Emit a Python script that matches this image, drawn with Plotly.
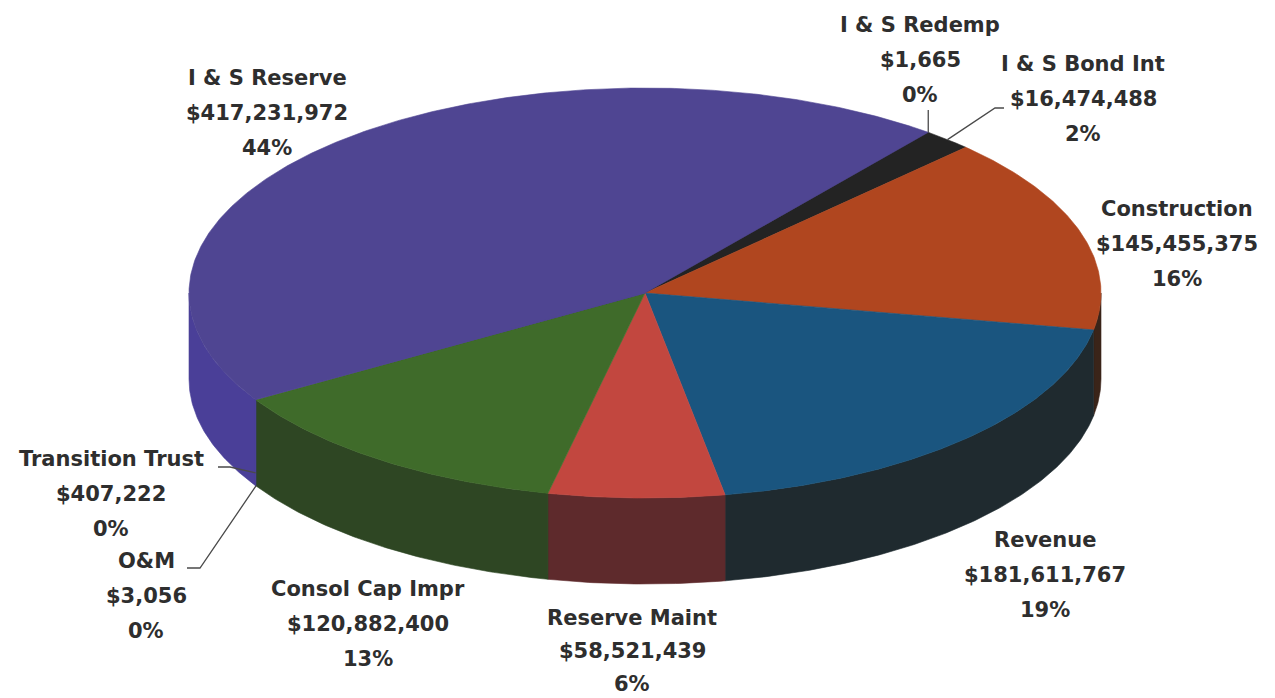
import numpy as np
import plotly.graph_objects as go

# Fund balances, listed clockwise from the top of the pie
categories = [
    "I & S Redemp", "I & S Bond Int", "Construction", "Revenue",
    "Reserve Maint", "Consol Cap Impr", "O&M", "Transition Trust", "I & S Reserve",
]
amounts = [1665, 16474488, 145455375, 181611767, 58521439, 120882400, 3056, 407222, 417231972]
shares = ["0%", "2%", "16%", "19%", "6%", "13%", "0%", "0%", "44%"]

# Styling: top face colour and darker wall colour per slice
top_colors = ["#2a2a2a", "#232323", "#b0461f", "#1a557f", "#c2473f",
              "#3f6b2a", "#3f6b2a", "#4f4592", "#4f4592"]
side_colors = ["#1c1c1c", "#1c1c1c", "#3a2419", "#1f2a2f", "#5e2a2c",
               "#2e4623", "#2e4623", "#4a3f98", "#4a3f98"]

# Pie geometry in page pixels (ellipse seen in perspective)
W, H = 1275, 698
CX, CY, RX, RY, DEPTH = 645, 293, 456, 205, 86
START = 38.4  # degrees clockwise from 12 o'clock

# Label placement: centre x and first-line y, plus optional leader line
label_pos = {
    "I & S Redemp": (920, 25),
    "I & S Bond Int": (1083, 64),
    "Construction": (1177, 209),
    "Revenue": (1045, 540),
    "Reserve Maint": (632, 618),
    "Consol Cap Impr": (368, 589),
    "O&M": (146, 561),
    "Transition Trust": (111, 459),
    "I & S Reserve": (267, 78),
}
line_gaps = {"Reserve Maint": 33}
LINE_GAP = 35
# leader: (elbow points from label side, depth fraction at the pie end)
leaders = {
    "I & S Redemp": ([(None, 110)], 0.0),
    "I & S Bond Int": ([(1004, 108), (995, 108)], 0.0),
    "Transition Trust": ([(218, 467), (230, 467)], 0.85),
    "O&M": ([(187, 568), (200, 568)], 1.0),
}


def ell(theta_deg, drop=0.0):
    t = np.radians(theta_deg)
    return CX + RX * np.sin(t), CY - RY * np.cos(t) + drop


total = float(sum(amounts))
fracs = np.array(amounts, dtype=float) / total
edges = START + 360.0 * np.concatenate([[0.0], np.cumsum(fracs)])

fig = go.Figure()

# Outer walls: only the front half (90..270 degrees) is visible
for i in range(len(categories)):
    a0, a1 = edges[i], edges[i + 1]
    for k in (-360, 0, 360):
        lo, hi = max(a0, 90 + k), min(a1, 270 + k)
        if hi <= lo:
            continue
        th = np.linspace(lo, hi, max(3, int((hi - lo) * 2)))
        xt, yt = ell(th)
        xb, yb = ell(th[::-1], DEPTH)
        fig.add_trace(go.Scatter(
            x=np.concatenate([xt, xb, xt[:1]]), y=np.concatenate([yt, yb, yt[:1]]),
            mode="lines", fill="toself", fillcolor=side_colors[i],
            line=dict(color=side_colors[i], width=0.6),
            hoverinfo="skip", showlegend=False))

# Top faces
for i in range(len(categories)):
    a0, a1 = edges[i], edges[i + 1]
    th = np.linspace(a0, a1, max(3, int((a1 - a0) * 2)))
    xa, ya = ell(th)
    fig.add_trace(go.Scatter(
        x=np.concatenate([[CX], xa, [CX]]), y=np.concatenate([[CY], ya, [CY]]),
        mode="lines", fill="toself", fillcolor=top_colors[i],
        line=dict(color=top_colors[i], width=0.6),
        name=categories[i], hoverinfo="name", showlegend=False))

# Leader lines for the thin slices
for name, (pts, depth_frac) in leaders.items():
    i = categories.index(name)
    mid = 0.5 * (edges[i] + edges[i + 1])
    px, py = ell(mid, DEPTH * depth_frac)
    xs = [px if p[0] is None else p[0] for p in pts] + [px]
    ys = [p[1] for p in pts] + [py]
    fig.add_trace(go.Scatter(x=xs, y=ys, mode="lines",
                             line=dict(color="#4a4a4a", width=1.3),
                             hoverinfo="skip", showlegend=False))

# Data labels: name, amount, share
font = dict(family="DejaVu Sans", size=21, color="#2e2e2e", weight="bold")
for name, amt, pct in zip(categories, amounts, shares):
    x0, y0 = label_pos[name]
    gap = line_gaps.get(name, LINE_GAP)
    for j, txt in enumerate([name, f"${amt:,}", pct]):
        fig.add_annotation(x=x0, y=y0 + j * gap, text=txt, showarrow=False,
                           xanchor="center", yanchor="middle", font=font)

fig.update_layout(
    width=W, height=H, margin=dict(l=0, r=0, t=0, b=0),
    paper_bgcolor="white", plot_bgcolor="white",
    xaxis=dict(range=[0, W], visible=False, fixedrange=True),
    yaxis=dict(range=[H, 0], visible=False, fixedrange=True),
)

fig.write_html("out.html")
